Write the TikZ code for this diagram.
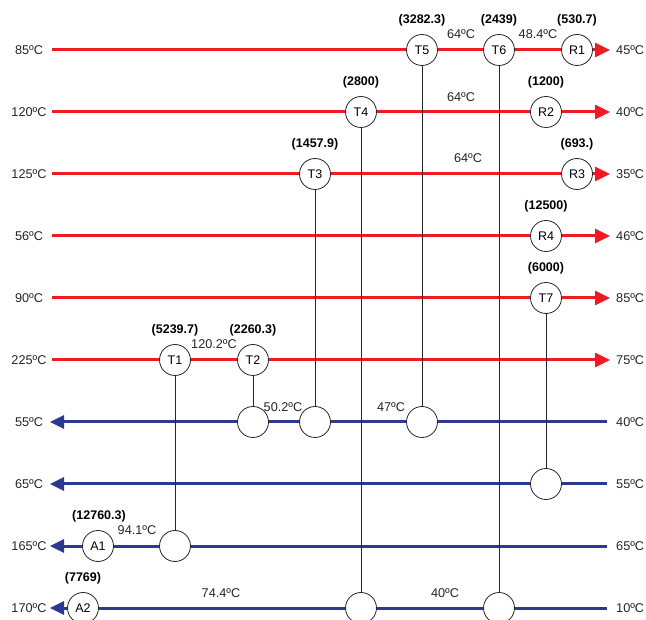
\documentclass[tikz,border=0pt]{standalone}
\usepackage{fontspec}
\setmainfont{Liberation Sans}
\usetikzlibrary{arrows.meta,backgrounds}
\definecolor{hotred}{RGB}{237,28,36}
\definecolor{coldblue}{RGB}{43,57,144}
\begin{document}
\begin{tikzpicture}[x=1pt,y=-1pt,
  hx/.style={circle,draw=black!85,fill=white,line width=0.8pt,minimum size=31pt,inner sep=0pt,font=\fontsize{12.5}{13}\selectfont},
  hot/.style={draw=hotred,line width=3pt,-{Triangle[length=15pt,width=14pt]}},
  cold/.style={draw=coldblue,line width=3pt,{Triangle[length=14pt,width=13pt]}-},
  link/.style={draw=black!85,line width=0.8pt},
  duty/.style={font=\bfseries\fontsize{12.5}{14}\selectfont,inner sep=0pt},
  temp/.style={font=\fontsize{12.7}{14}\selectfont,inner sep=0pt,text=black!85},
  lt/.style={font=\fontsize{12.7}{14}\selectfont,inner sep=0pt,text=black!85},
  rt/.style={font=\fontsize{12.7}{14}\selectfont,inner sep=0pt,anchor=west,text=black!85},
]
\useasboundingbox (0,0) rectangle (646,620);
\clip (0,0) rectangle (646,620);

% exchanger nodes
\node[hx] (T5) at (422,50) {T5};
\node[hx] (T6) at (499,50) {T6};
\node[hx] (R1) at (577,50) {R1};
\node[hx] (T4) at (361,112) {T4};
\node[hx] (R2) at (546,112) {R2};
\node[hx] (T3) at (315,174) {T3};
\node[hx] (R3) at (577,174) {R3};
\node[hx] (R4) at (546,236) {R4};
\node[hx] (T7) at (546,298) {T7};
\node[hx] (T1) at (175,360) {T1};
\node[hx] (T2) at (253,360) {T2};
\node[hx] (C2) at (253,422) {};
\node[hx] (C3) at (315,422) {};
\node[hx] (C5) at (422,422) {};
\node[hx] (C7) at (546,484) {};
\node[hx] (A1) at (98,546) {A1};
\node[hx] (C1) at (175,546) {};
\node[hx] (A2) at (83,608) {A2};
\node[hx] (C4) at (361,608) {};
\node[hx] (C6) at (499,608) {};

% stream end points
\foreach \n/\y in {h1/50,h2/112,h3/174,h4/236,h5/298,h6/360}{
  \coordinate (\n L) at (52,\y);
  \coordinate (\n R) at (610,\y);
}
\foreach \n/\y in {c1/422,c2/484,c3/546,c4/608}{
  \coordinate (\n L) at (50,\y);
  \coordinate (\n R) at (607,\y);
}

\begin{scope}[on background layer]
  \draw[hot] (h1L) -- (h1R);
  \draw[hot] (h2L) -- (h2R);
  \draw[hot] (h3L) -- (h3R);
  \draw[hot] (h4L) -- (h4R);
  \draw[hot] (h5L) -- (h5R);
  \draw[hot] (h6L) -- (h6R);
  \draw[cold] (c1L) -- (c1R);
  \draw[cold] (c2L) -- (c2R);
  \draw[cold] (c3L) -- (c3R);
  \draw[cold] (c4L) -- (c4R);
  \draw[link] (T1) -- (C1);
  \draw[link] (T2) -- (C2);
  \draw[link] (T3) -- (C3);
  \draw[link] (T4) -- (C4);
  \draw[link] (T5) -- (C5);
  \draw[link] (T6) -- (C6);
  \draw[link] (T7) -- (C7);
\end{scope}

% inlet / outlet temperatures
\node[lt] (l1) at (29,50) {85ºC};
\node[lt] (l2) at (29,112) {120ºC};
\node[lt] (l3) at (29,174) {125ºC};
\node[lt] (l4) at (29,236) {56ºC};
\node[lt] (l5) at (29,298) {90ºC};
\node[lt] (l6) at (29,360) {225ºC};
\node[lt] (l7) at (29,422) {55ºC};
\node[lt] (l8) at (29,484) {65ºC};
\node[lt] (l9) at (29,546) {165ºC};
\node[lt] (l10) at (29,608) {170ºC};
\node[rt] (r1) at (616,50) {45ºC};
\node[rt] (r2) at (616,112) {40ºC};
\node[rt] (r3) at (616,174) {35ºC};
\node[rt] (r4) at (616,236) {46ºC};
\node[rt] (r5) at (616,298) {85ºC};
\node[rt] (r6) at (616,360) {75ºC};
\node[rt] (r7) at (616,422) {40ºC};
\node[rt] (r8) at (616,484) {55ºC};
\node[rt] (r9) at (616,546) {65ºC};
\node[rt] (r10) at (616,608) {10ºC};

% duties
\node[duty] (d5) at (422,20) {(3282.3)};
\node[duty] (d6) at (499,20) {(2439)};
\node[duty] (dr1) at (577,20) {(530.7)};
\node[duty] (d4) at (361,82) {(2800)};
\node[duty] (dr2) at (546,82) {(1200)};
\node[duty] (d3) at (315,144) {(1457.9)};
\node[duty] (dr3) at (577,144) {(693.)};
\node[duty] (dr4) at (546,206) {(12500)};
\node[duty] (d7) at (546,268) {(6000)};
\node[duty] (d1) at (175,330) {(5239.7)};
\node[duty] (d2) at (253,330) {(2260.3)};
\node[duty] (da1) at (99,516) {(12760.3)};
\node[duty] (da2) at (83,578) {(7769)};

% intermediate temperatures
\node[temp] (t1) at (461,34) {64ºC};
\node[temp] (t2) at (538,34) {48.4ºC};
\node[temp] (t3) at (461,97) {64ºC};
\node[temp] (t4) at (468,158) {64ºC};
\node[temp] (t5) at (214,344) {120.2ºC};
\node[temp] (t6) at (283,407) {50.2ºC};
\node[temp] (t7) at (391,407) {47ºC};
\node[temp] (t8) at (137,530) {94.1ºC};
\node[temp] (t9) at (221,593) {74.4ºC};
\node[temp] (t10) at (445,593) {40ºC};
\end{tikzpicture}
\end{document}
